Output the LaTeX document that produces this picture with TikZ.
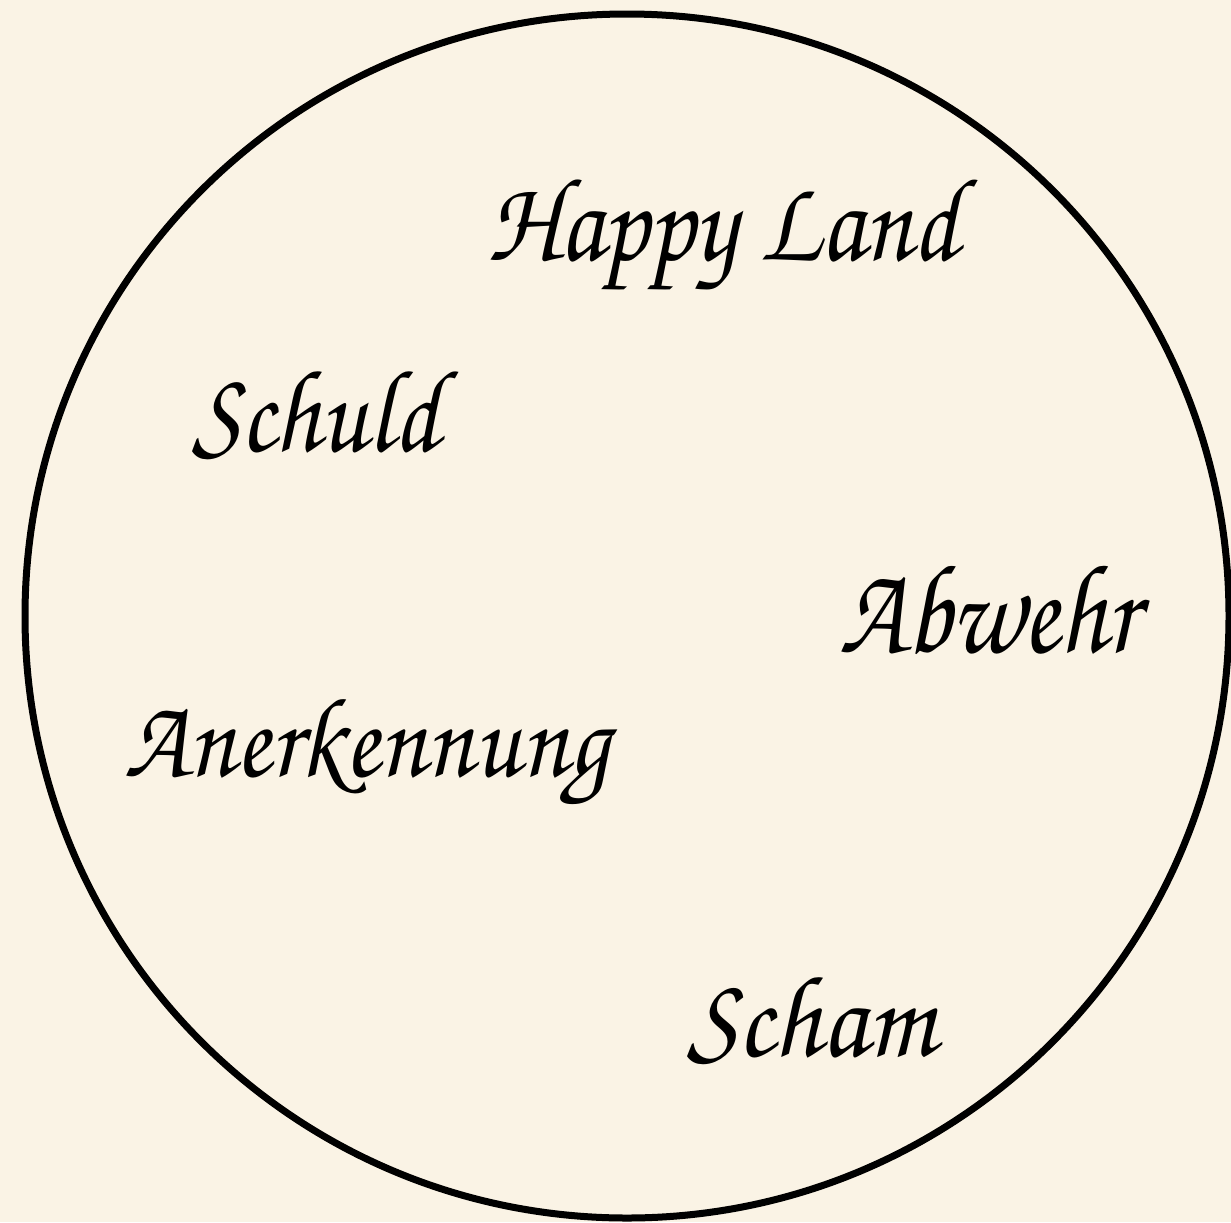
\documentclass[tikz,border=0pt]{standalone}
\usepackage{fontspec}
\usepackage{graphicx}
\newfontfamily\chorusfont{texgyrechorus-mediumitalic.otf}
\definecolor{bgcream}{HTML}{FAF3E5}
\newcommand\fitw[3]{\resizebox*{#1}{#2}{\chorusfont #3}}
\begin{document}
\begin{tikzpicture}[x=0.03cm,y=-0.03cm,
  lbl/.style={inner sep=0pt,outer sep=0pt,anchor=center}]
\fill[bgcream] (0,0) rectangle (1231,1222);
\useasboundingbox (0,0) rectangle (1231,1222);
\draw[line width=7*0.03cm] (627,616) circle[radius=602*0.03cm];
\node[lbl] (happy) at (723,235) {\fitw{14.1cm}{3.3cm}{Happy Land}};
\node[lbl] (schuld) at (316,416) {\fitw{7.4cm}{2.64cm}{Schuld}};
\node[lbl] (aner) at (367,752) {\fitw{14.55cm}{3.15cm}{Anerkennung}};
\node[lbl] (abwehr) at (989,610) {\fitw{8.94cm}{2.65cm}{Abwehr}};
\node[lbl] (scham) at (811,1021) {\fitw{7.4cm}{2.61cm}{Scham}};
\end{tikzpicture}
\end{document}
